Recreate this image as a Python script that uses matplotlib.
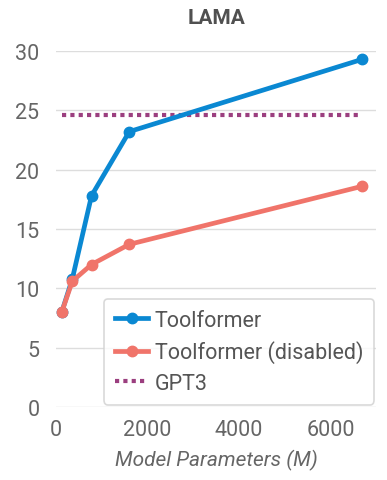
import matplotlib
matplotlib.use("Agg")
import matplotlib.pyplot as plt

### Data
params = [124, 355, 775, 1600, 6700]
toolformer = [8.0, 10.8, 17.8, 23.2, 29.3]
disabled = [8.0, 10.6, 12.0, 13.7, 18.6]
gpt3 = 24.6

c_blue = '#0A88D2'
c_red = '#F0746A'
c_purple = '#9B3F7F'

plt.rcParams['font.family'] = ['Roboto', 'DejaVu Sans']

fig = plt.figure(figsize=(3.87, 4.81), dpi=100)
ax = fig.add_axes([0.145, 0.152, 0.827, 0.740])

ax.plot(params, toolformer, color=c_blue, lw=3.4, marker='o', ms=7.5,
        label='Toolformer', clip_on=False, zorder=3)
ax.plot(params, disabled, color=c_red, lw=3.4, marker='o', ms=7.5,
        label='Toolformer (disabled)', clip_on=False, zorder=4)
ax.plot([params[0], params[-1]], [gpt3, gpt3], color=c_purple, lw=3,
        ls=(0, (1, 1)), label='GPT3', zorder=2)

ax.set_xlim(0, 7000)
ax.set_ylim(0, 30)
ax.set_xticks([0, 2000, 4000, 6000])
ax.set_yticks([0, 5, 10, 15, 20, 25, 30])
ax.grid(axis='y', color='#DDDDDD', lw=1)
ax.set_axisbelow(True)
for s in ax.spines.values():
    s.set_visible(False)
ax.tick_params(length=0, labelsize=15.5, labelcolor='#666666')
ax.tick_params(axis='x', pad=9)
ax.tick_params(axis='y', pad=12)

ax.set_title('LAMA', fontsize=15, fontweight='bold', color='#505050', pad=20)
ax.set_xlabel('Model Parameters (M)', fontsize=15, style='italic',
              color='#666666', labelpad=6)

leg = ax.legend(loc='lower right', bbox_to_anchor=(1.0, 0.0), fontsize=15.5,
                handlelength=1.55, handletextpad=0.3, labelspacing=0.45,
                borderpad=0.5, frameon=True, fancybox=True,
                edgecolor='#D0D0D0', borderaxespad=0.1)
leg.get_frame().set_linewidth(1.2)
for t in leg.get_texts():
    t.set_color('#555555')

plt.savefig('out.png', dpi=100)
